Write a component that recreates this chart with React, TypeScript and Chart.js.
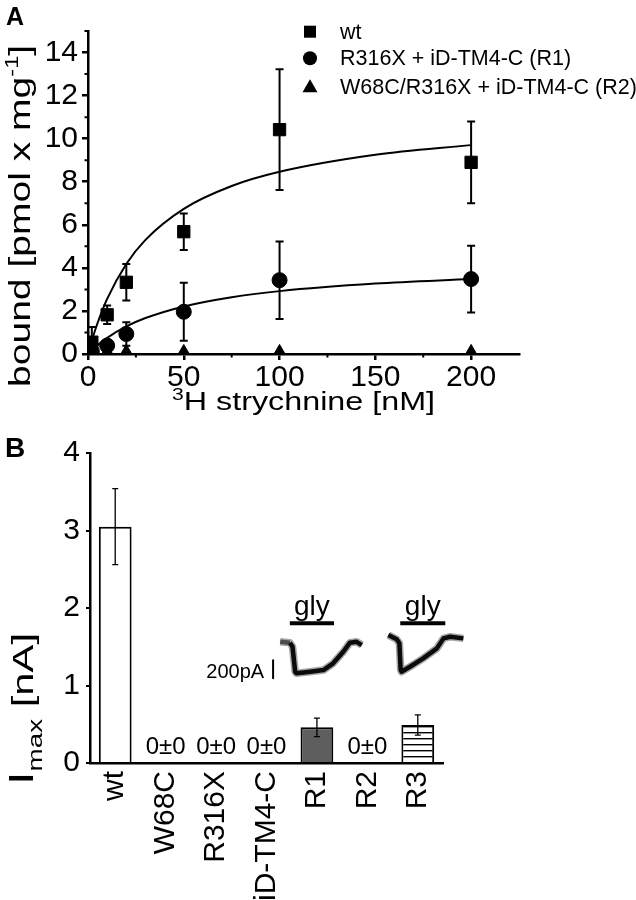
import React, { useEffect, useRef } from 'react';
import { Chart, registerables } from 'chart.js';
Chart.register(...registerables);

const FONT = '"Liberation Sans", Arial, Helvetica, sans-serif';
const BLACK = '#000';

// ---------- Panel A data ----------
const concA = [2, 10, 20, 50, 100, 200];
const wtBound = [0.55, 1.82, 3.33, 5.68, 10.42, 8.9];
const wtErr = [0.7, 0.43, 0.85, 0.85, 2.8, 1.9];
const r1Bound = [0.12, 0.39, 0.93, 1.96, 3.43, 3.48];
const r1Err = [0, 0, 0.55, 1.35, 1.8, 1.55];
const r2Bound = [0.05, 0.05, 0.05, 0.05, 0.05, 0.05];
const r2Err = [0, 0, 0, 0, 0, 0];
const fitConc = [0, 2, 5, 10, 20, 30, 50, 75, 100, 150, 200];
const wtFit = [0, 0.62, 1.44, 2.56, 4.18, 5.3, 6.74, 7.8, 8.46, 9.25, 9.7];
const r1Fit = [0, 0.18, 0.41, 0.75, 1.28, 1.67, 2.21, 2.64, 2.92, 3.27, 3.48];
const legendLabels = ['wt', 'R316X + iD-TM4-C (R1)', 'W68C/R316X + iD-TM4-C (R2)'];
const xTicksA = [0, 50, 100, 150, 200];
const xMinorA = [25, 75, 125, 175];
const yTicksA = [0, 2, 4, 6, 8, 10, 12, 14];
const yMinorA = [1, 3, 5, 7, 9, 11, 13, 15];

// ---------- Panel B data ----------
const groups = ['wt', 'W68C', 'R316X', 'iD-TM4-C', 'R1', 'R2', 'R3'];
const imax = [3.05, 0, 0, 0, 0.46, 0, 0.49];
const imaxErr = [0.49, 0, 0, 0, 0.12, 0, 0.13];
const yTicksB = [0, 0.5, 1, 1.5, 2, 2.5, 3, 3.5, 4];
// inset current traces (time s, current pA)
const trace1T = [43.1, 45.3, 45.9, 46.5, 46.8, 49.9, 52.9, 55.1, 57.4, 58.9, 60.4, 61.6];
const trace1I = [5, -5, -50, -327, -345, -327, -309, -234, -105, -5, 5, -31];
const trace2T = [67.6, 69.5, 70.1, 70.4, 70.6, 72.5, 75.5, 78.6, 80.1, 81.6, 84.6];
const trace2I = [80, 32, -12, -308, -327, -272, -179, -68, 43, 61, 43];
const glyOn = [45.3, 70.3];
const glyOff = [55.3, 80.5];
const glyLevel = 210;
const scaleBarT = 41.5;
const scaleBarI = [-200, -400];
const scaleBarLabel = '200pA';
const insetTimeRange = [40.8, 86.1];
const insetCurrentRange = [-530, 580];

type Part = { t: string; size: number; dy?: number; weight?: string };
function drawParts(ctx: CanvasRenderingContext2D, parts: Part[], x: number, y: number, rot: number, target?: number) {
  ctx.save();
  let natural = 0;
  const widths: number[] = [];
  for (const p of parts) {
    ctx.font = `${p.weight || 'normal'} ${p.size}px ${FONT}`;
    const w = ctx.measureText(p.t).width;
    widths.push(w);
    natural += w;
  }
  const sx = target ? target / natural : 1;
  ctx.translate(x, y);
  ctx.rotate(rot);
  ctx.scale(sx, 1);
  ctx.fillStyle = BLACK;
  ctx.textBaseline = 'alphabetic';
  ctx.textAlign = 'left';
  let cx = -natural / 2;
  parts.forEach((p, i) => {
    ctx.font = `${p.weight || 'normal'} ${p.size}px ${FONT}`;
    ctx.fillText(p.t, cx, p.dy || 0);
    cx += widths[i];
  });
  ctx.restore();
}

const errorBars = (capHalf: number, lw: number) => ({
  id: 'errorBars',
  afterDatasetsDraw(chart: any) {
    const ctx = chart.ctx;
    chart.data.datasets.forEach((ds: any, di: number) => {
      if (!ds.errors) return;
      const meta = chart.getDatasetMeta(di);
      const ys = chart.scales[meta.yAxisID];
      ctx.save();
      ctx.strokeStyle = BLACK;
      ctx.lineWidth = lw;
      meta.data.forEach((el: any, i: number) => {
        const e = ds.errors[i];
        if (!e) return;
        const raw = ds.data[i];
        const v = typeof raw === 'number' ? raw : raw.y;
        const x = el.x;
        const yt = ys.getPixelForValue(v + e);
        const yb = ys.getPixelForValue(Math.max(0, v - e));
        ctx.beginPath();
        ctx.moveTo(x, yt); ctx.lineTo(x, yb);
        ctx.moveTo(x - capHalf, yt); ctx.lineTo(x + capHalf, yt);
        ctx.moveTo(x - capHalf, yb); ctx.lineTo(x + capHalf, yb);
        ctx.stroke();
      });
      ctx.restore();
    });
  },
});

const decorA = {
  id: 'decorA',
  afterDraw(chart: any) {
    const ctx = chart.ctx;
    const xs = chart.scales.x, ys = chart.scales.y;
    const ca = chart.chartArea;
    // minor ticks
    ctx.save();
    ctx.strokeStyle = BLACK;
    ctx.lineWidth = 2;
    ctx.beginPath();
    xMinorA.forEach(v => { const px = xs.getPixelForValue(v); ctx.moveTo(px, ca.bottom); ctx.lineTo(px, ca.bottom + 3.5); });
    yMinorA.forEach(v => { const py = ys.getPixelForValue(v); ctx.moveTo(ca.left, py); ctx.lineTo(ca.left - 3.5, py); });
    ctx.stroke();
    ctx.restore();
    // legend
    const lx = 310, rows = [31.7, 58.3, 87.3];
    ctx.save();
    ctx.fillStyle = BLACK;
    ctx.fillRect(lx - 6, rows[0] - 6, 12, 12);
    ctx.beginPath(); ctx.arc(lx, rows[1], 7, 0, Math.PI * 2); ctx.fill();
    ctx.beginPath(); ctx.moveTo(lx, rows[2] - 8); ctx.lineTo(lx + 7.5, rows[2] + 5); ctx.lineTo(lx - 7.5, rows[2] + 5); ctx.closePath(); ctx.fill();
    ctx.font = `21.5px ${FONT}`;
    ctx.textBaseline = 'middle';
    ctx.textAlign = 'left';
    legendLabels.forEach((t, i) => ctx.fillText(t, 340, rows[i] + 1));
    ctx.restore();
    // titles
    drawParts(ctx, [
      { t: 'bound [pmol x mg', size: 30 },
      { t: '-1', size: 18, dy: -12 },
      { t: ']', size: 30 },
    ], 30, 216, -Math.PI / 2, 342);
    drawParts(ctx, [
      { t: '3', size: 17, dy: -10 },
      { t: 'H strychnine [nM]', size: 26 },
    ], (ca.left + ca.right) / 2, 410, 0, 263);
    drawParts(ctx, [{ t: 'A', size: 25, weight: 'bold' }], 15, 25, 0);
  },
};

const decorB = {
  id: 'decorB',
  afterDraw(chart: any) {
    const ctx = chart.ctx;
    const xs = chart.scales.x, ys = chart.scales.y;
    ctx.save();
    ctx.fillStyle = BLACK;
    ctx.font = `24px ${FONT}`;
    ctx.textAlign = 'center';
    ctx.textBaseline = 'alphabetic';
    imax.forEach((v, i) => {
      if (v === 0 && imaxErr[i] === 0) {
        ctx.fillText(`${v}±${imaxErr[i]}`, xs.getPixelForValue(i), ys.getPixelForValue(0) - 9);
      }
    });
    ctx.restore();
    drawParts(ctx, [
      { t: 'I', size: 35 },
      { t: 'max', size: 20, dy: 9 },
      { t: ' [nA]', size: 30 },
    ], 33, 289, -Math.PI / 2, 152);
    drawParts(ctx, [{ t: 'B', size: 28, weight: 'bold' }], 15, 37, 0);
  },
};

const decorInset = {
  id: 'decorInset',
  afterDraw(chart: any) {
    const ctx = chart.ctx;
    const xt = chart.scales.x, yt = chart.scales.y;
    ctx.save();
    ctx.fillStyle = BLACK;
    ctx.textBaseline = 'alphabetic';
    ctx.textAlign = 'center';
    ctx.font = `28px ${FONT}`;
    glyOn.forEach((t0, k) => {
      const cx = (xt.getPixelForValue(t0) + xt.getPixelForValue(glyOff[k])) / 2;
      ctx.fillText('gly', cx, yt.getPixelForValue(glyLevel) - 8);
    });
    ctx.font = `20px ${FONT}`;
    ctx.textAlign = 'right';
    ctx.fillText(scaleBarLabel, xt.getPixelForValue(scaleBarT) - 9, yt.getPixelForValue(scaleBarI[1]));
    ctx.restore();
  },
};

export default function App() {
  const refA = useRef<HTMLCanvasElement>(null);
  const refB = useRef<HTMLCanvasElement>(null);
  const refC = useRef<HTMLCanvasElement>(null);

  useEffect(() => {
    const tickFont = { family: FONT, size: 30 };
    const ca = new Chart(refA.current!, {
      type: 'scatter',
      data: {
        datasets: [
          { label: 'wt fit', data: fitConc.map((x, i) => ({ x, y: wtFit[i] })), showLine: true, pointRadius: 0, borderColor: BLACK, borderWidth: 2, cubicInterpolationMode: 'monotone' } as any,
          { label: 'R1 fit', data: fitConc.map((x, i) => ({ x, y: r1Fit[i] })), showLine: true, pointRadius: 0, borderColor: BLACK, borderWidth: 2, cubicInterpolationMode: 'monotone' } as any,
          { label: legendLabels[0], data: concA.map((x, i) => ({ x, y: wtBound[i] })), pointStyle: 'rect', pointRadius: 8.7, backgroundColor: BLACK, borderColor: BLACK, errors: wtErr } as any,
          { label: legendLabels[1], data: concA.map((x, i) => ({ x, y: r1Bound[i] })), pointStyle: 'circle', pointRadius: 7.5, backgroundColor: BLACK, borderColor: BLACK, errors: r1Err } as any,
          { label: legendLabels[2], data: concA.map((x, i) => ({ x, y: r2Bound[i] })), pointStyle: 'triangle', pointRadius: 8.5, backgroundColor: BLACK, borderColor: BLACK, errors: r2Err } as any,
        ],
      },
      options: {
        responsive: false,
        animation: false,
        layout: { padding: { top: 31, right: 117, left: 0, bottom: 0 } },
        plugins: { legend: { display: false }, tooltip: { enabled: false } },
        scales: {
          x: {
            type: 'linear', min: 0, max: 225,
            afterBuildTicks: (s: any) => { s.ticks = xTicksA.map(v => ({ value: v })); },
            afterFit: (s: any) => { s.height = 66; },
            ticks: { font: tickFont, color: BLACK, padding: 0, maxRotation: 0 },
            grid: { drawOnChartArea: false, tickLength: 6, color: BLACK, lineWidth: 2.5 },
            border: { color: BLACK, width: 2.5 },
          },
          y: {
            type: 'linear', min: 0, max: 15,
            afterBuildTicks: (s: any) => { s.ticks = yTicksA.map(v => ({ value: v })); },
            afterFit: (s: any) => { s.width = 88; },
            ticks: { font: tickFont, color: BLACK, padding: 4 },
            grid: { drawOnChartArea: false, tickLength: 6, color: BLACK, lineWidth: 2.5 },
            border: { color: BLACK, width: 2.5 },
          },
        },
      } as any,
      plugins: [errorBars(4, 2), decorA],
    });

    const pc = document.createElement('canvas');
    pc.width = 8; pc.height = 6;
    const pctx = pc.getContext('2d')!;
    pctx.fillStyle = '#fff'; pctx.fillRect(0, 0, 8, 6);
    pctx.fillStyle = BLACK; pctx.fillRect(0, 0, 8, 1.4);
    const stripes = pctx.createPattern(pc, 'repeat');
    const barFills: any[] = ['#fff', '#fff', '#fff', '#fff', '#5e5e5e', '#fff', stripes];

    const cb = new Chart(refB.current!, {
      type: 'bar',
      data: {
        labels: groups,
        datasets: [
          { label: 'Imax', data: imax, backgroundColor: barFills, borderColor: BLACK, borderWidth: 2, barPercentage: 0.65, categoryPercentage: 1, grouped: false, errors: imaxErr } as any,
        ],
      },
      options: {
        responsive: false,
        animation: false,
        layout: { padding: { top: 33, right: 193, left: 0, bottom: 0 } },
        plugins: { legend: { display: false }, tooltip: { enabled: false } },
        scales: {
          x: {
            type: 'category', offset: true,
            afterFit: (s: any) => { s.height = 137; },
            ticks: { font: tickFont, color: BLACK, padding: 8, minRotation: 90, maxRotation: 90, autoSkip: false },
            grid: { display: false, drawTicks: false },
            border: { color: BLACK, width: 2.5 },
          },
          y: {
            type: 'linear', min: 0, max: 4,
            afterBuildTicks: (s: any) => { s.ticks = yTicksB.map(v => ({ value: v })); },
            afterFit: (s: any) => { s.width = 90; },
            ticks: { font: tickFont, color: BLACK, padding: 6, callback: (v: any) => (Number.isInteger(v) ? String(v) : '') },
            grid: { drawOnChartArea: false, tickLength: 4, color: BLACK, lineWidth: 2 },
            border: { color: BLACK, width: 2.5 },
          },
        },
      } as any,
      plugins: [errorBars(3, 1.3), decorB],
    });

    const lineDs = (xsArr: number[], ysArr: number[], w: number, color: string) => ({
      data: xsArr.map((x, i) => ({ x, y: ysArr[i] })),
      showLine: true, borderColor: color, borderWidth: w, pointRadius: 0, clip: false, borderCapStyle: 'butt', borderJoinStyle: 'round',
    });

    const cc = new Chart(refC.current!, {
      type: 'scatter',
      data: {
        datasets: [
          lineDs(trace1T, trace1I, 7.5, 'rgba(0,0,0,0.35)') as any,
          { ...lineDs(trace1T, trace1I, 4.5, '#111'), segment: { borderColor: (c: any) => (c.p0DataIndex === 0 ? '#777' : '#111') } } as any,
          lineDs(trace2T, trace2I, 7.5, 'rgba(0,0,0,0.35)') as any,
          lineDs(trace2T, trace2I, 4.5, '#111') as any,
          lineDs([glyOn[0], glyOff[0]], [glyLevel, glyLevel], 4, BLACK) as any,
          lineDs([glyOn[1], glyOff[1]], [glyLevel, glyLevel], 4, BLACK) as any,
          lineDs([scaleBarT, scaleBarT], scaleBarI, 2, BLACK) as any,
        ],
      },
      options: {
        responsive: false,
        animation: false,
        layout: { padding: { left: 270, right: 166, top: 170, bottom: 210 } },
        plugins: { legend: { display: false }, tooltip: { enabled: false } },
        scales: {
          x: { type: 'linear', display: false, min: insetTimeRange[0], max: insetTimeRange[1] },
          y: { type: 'linear', display: false, min: insetCurrentRange[0], max: insetCurrentRange[1] },
        },
      } as any,
      plugins: [decorInset],
    });

    return () => { ca.destroy(); cb.destroy(); cc.destroy(); };
  }, []);

  return (
    <div style={{ position: 'fixed', left: 0, top: 0, width: 636, height: 900, background: '#fff' }}>
      <canvas ref={refA} width={636} height={420} style={{ position: 'absolute', left: 0, top: 0, width: 636, height: 420 }} />
      <canvas ref={refB} width={636} height={480} style={{ position: 'absolute', left: 0, top: 420, width: 636, height: 480 }} />
      <canvas ref={refC} width={636} height={480} style={{ position: 'absolute', left: 0, top: 420, width: 636, height: 480 }} />
    </div>
  );
}
